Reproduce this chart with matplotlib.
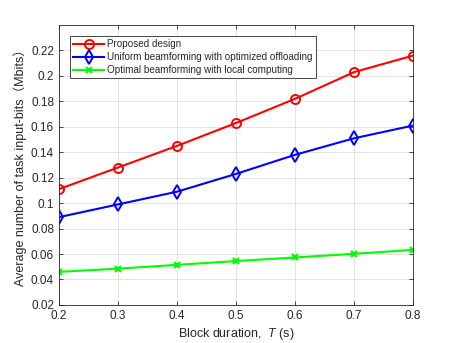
import matplotlib
matplotlib.use("Agg")
import matplotlib.pyplot as plt

plt.rcParams['font.family'] = ['Liberation Sans', 'Noto Sans CJK SC', 'DejaVu Sans']
plt.rcParams['mathtext.fontset'] = 'custom'
plt.rcParams['mathtext.it'] = 'Liberation Sans:italic'

T = [0.2, 0.3, 0.4, 0.5, 0.6, 0.7, 0.8]
proposed = [0.111, 0.128, 0.145, 0.163, 0.182, 0.203, 0.216]
uniform = [0.089, 0.099, 0.109, 0.123, 0.138, 0.151, 0.161]
local = [0.046, 0.0485, 0.0515, 0.0545, 0.0573, 0.0602, 0.0633]
labels = ["Proposed design",
          "Uniform beamforming with optimized offloading",
          "Optimal beamforming with local computing"]

txt = '#262626'
fig = plt.figure(figsize=(4.57, 3.43), dpi=100)
ax = fig.add_axes([0.129, 0.111, 0.775, 0.816])

ax.plot(T, proposed, color='#ff0000', lw=1.5, marker='o', ms=6.5, mfc='none', mew=1.4, label=labels[0])
ax.plot(T, uniform, color='#0000ff', lw=1.5, marker='d', ms=7.5, mfc='none', mew=1.4, label=labels[1])
ax.plot(T, local, color='#00ff00', lw=1.5, marker='x', ms=5, mew=1.6, label=labels[2])

ax.set_xlim(0.2, 0.8)
ax.set_ylim(0.02, 0.24)
ax.set_xticks(T)
ax.set_xticklabels([str(t) for t in T])
yt = [0.02, 0.04, 0.06, 0.08, 0.1, 0.12, 0.14, 0.16, 0.18, 0.2, 0.22]
ax.set_yticks(yt)
ax.set_yticklabels(['%g' % v for v in yt])
ax.grid(True, color='#dfdfdf', lw=0.6)
ax.set_axisbelow(True)
ax.tick_params(direction='in', length=3, width=0.6, colors=txt, labelsize=8.5, top=True, right=True, labeltop=False, labelright=False)
for s in ax.spines.values():
    s.set_color('#262626')
    s.set_linewidth(0.6)

ax.set_xlabel("Block duration,  $T$ (s)", fontsize=9, color=txt, labelpad=3)
ax.set_ylabel("Average number of task input-bits（Mbits）", fontsize=9, color=txt, labelpad=3)

leg = ax.legend(loc='upper left', bbox_to_anchor=(0.031, 0.96), fontsize=7.1, frameon=True, fancybox=False,
                edgecolor='#262626', framealpha=1, borderpad=0.3, labelspacing=0.3, handlelength=3.2,
                handletextpad=0.3, borderaxespad=0)
leg.get_frame().set_linewidth(0.6)
for t in leg.get_texts():
    t.set_color(txt)

fig.savefig("out.png", dpi=100)
